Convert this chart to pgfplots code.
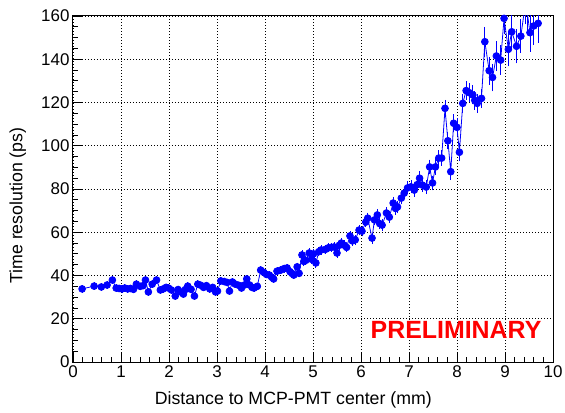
\documentclass[border=0pt]{standalone}
\usepackage{pgfplots}
\pgfplotsset{compat=1.18}
\usepackage{pgfplotstable}
\usepackage{fontspec}
\setmainfont{Liberation Sans}
\definecolor{rootblue}{RGB}{0,0,255}
\definecolor{rootred}{RGB}{255,0,0}

\pgfplotstableread{
x y ey
0.19 33.8 0.8
0.44 35.1 0.8
0.59 34.7 0.8
0.71 35.6 0.8
0.82 37.9 0.8
0.90 34.2 0.8
0.96 34.0 0.8
1.02 33.8 0.8
1.08 34.2 0.8
1.14 33.8 0.8
1.20 34.0 0.8
1.26 33.6 0.8
1.32 36.0 0.8
1.40 35.0 0.8
1.46 35.3 0.8
1.51 37.9 0.8
1.57 32.4 0.8
1.65 36.0 0.8
1.74 37.9 0.8
1.82 33.3 0.8
1.88 33.8 0.8
1.94 34.5 0.8
1.99 34.2 0.8
2.05 33.3 0.8
2.13 30.5 0.8
2.19 33.5 0.8
2.24 32.4 0.8
2.30 31.4 0.8
2.34 33.5 0.8
2.39 35.1 0.8
2.46 33.6 0.8
2.53 30.5 0.8
2.60 36.0 0.8
2.66 35.5 0.8
2.72 34.5 0.8
2.78 35.3 0.8
2.85 33.8 0.8
2.91 34.5 0.8
2.97 32.4 0.8
3.01 32.8 0.8
3.08 37.5 0.8
3.15 37.2 0.8
3.21 36.8 0.8
3.26 32.8 0.8
3.32 37.0 0.8
3.38 36.0 0.8
3.45 35.5 0.8
3.51 34.2 0.8
3.56 35.5 0.8
3.62 38.4 0.8
3.68 35.6 0.8
3.73 34.5 0.8
3.77 34.2 0.8
3.84 35.0 0.8
3.91 42.5 0.9
3.97 41.5 0.9
4.03 40.5 0.9
4.09 40.2 0.9
4.14 39.2 0.9
4.18 38.4 0.9
4.25 42.0 0.9
4.33 42.5 0.9
4.40 43.2 0.9
4.46 43.5 0.9
4.52 41.8 0.9
4.56 41.0 0.9
4.60 40.2 0.9
4.67 44.0 1.0
4.71 41.0 1.0
4.77 49.5 1.2
4.81 46.5 1.2
4.85 47.0 1.2
4.92 50.4 1.2
4.97 47.5 1.2
5.01 50.0 1.2
5.06 45.8 1.2
5.12 51.0 1.2
5.17 51.8 1.2
5.25 52.0 1.2
5.32 52.8 1.2
5.38 53.0 1.2
5.44 53.2 1.2
5.50 50.4 1.2
5.55 54.0 1.3
5.59 55.0 1.3
5.65 54.0 1.3
5.70 53.0 1.3
5.77 58.3 1.4
5.82 56.0 1.4
5.88 56.5 1.4
5.96 61.0 1.5
6.02 60.5 1.5
6.10 64.7 1.5
6.14 66.5 1.6
6.23 57.3 1.6
6.28 65.7 1.6
6.34 68.0 1.7
6.39 64.0 1.7
6.44 63.3 1.7
6.53 68.9 1.8
6.59 67.0 1.8
6.67 73.5 1.9
6.72 71.0 1.9
6.76 71.7 1.9
6.84 75.8 2.0
6.90 78.1 2.0
6.97 80.5 2.1
7.04 81.0 2.1
7.11 79.5 2.1
7.17 82.0 2.2
7.22 85.0 2.3
7.28 81.8 2.3
7.36 80.9 2.3
7.43 90.2 2.5
7.49 82.8 2.5
7.55 90.2 2.6
7.62 94.3 2.7
7.68 94.3 2.7
7.75 117.3 3.0
7.81 102.3 3.0
7.87 88.0 3.0
7.93 110.4 3.2
8.00 108.5 3.2
8.05 97.0 3.2
8.12 119.6 3.5
8.19 125.5 3.5
8.26 124.5 3.5
8.33 123.5 3.5
8.37 121.0 3.5
8.42 119.6 3.5
8.51 121.9 3.6
8.58 148.1 6.0
8.67 134.7 5.5
8.74 131.6 5.5
8.82 141.5 6.0
8.91 139.6 6.0
8.98 158.9 6.5
9.07 144.6 7.0
9.14 152.7 7.0
9.24 146.0 7.0
9.33 150.7 7.0
9.42 165.0 8.0
9.47 160.5 8.0
9.52 152.3 8.0
9.60 155.4 8.0
9.69 156.6 8.0
}\datatable

\begin{document}
\begin{tikzpicture}
\begin{axis}[
  scale only axis, width=480bp, height=346bp,
  xmin=0, xmax=10, ymin=0, ymax=160,
  xtick={0,1,...,10}, ytick={0,20,...,160},
  minor x tick num=4, minor y tick num=3,
  tick align=inside, xtick pos=left, ytick pos=left,
  major tick length=10bp, minor tick length=5bp,
  grid=major, grid style={black, line width=0.6bp, dash pattern=on 1bp off 2bp},
  axis line style={black, line width=1bp},
  tick style={black, line width=0.8bp},
  /pgf/number format/assume math mode=true,
  ticklabel style={font=\fontsize{17}{17}\selectfont},
  xlabel={Distance to MCP-PMT center (mm)},
  ylabel={Time resolution (ps)},
  label style={font=\fontsize{17.8}{17.8}\selectfont},
  xlabel style={at={(axis description cs:0.459,-0.11)}, anchor=center},
  ylabel style={at={(axis description cs:-0.115,0.452)}, anchor=center},
]
\addplot[rootblue, line width=0.8bp, mark=*, mark size=3.4bp,
  mark options={fill=rootblue, draw=rootblue},
  error bars/.cd, y dir=both, y explicit,
  error bar style={line width=0.8bp, rootblue},
  error mark options={rootblue, mark size=2bp, line width=0.8bp}]
  table[x=x, y=y, y error=ey] {\datatable};
\node[text=rootred, font=\bfseries\fontsize{25}{25}\selectfont] at (axis cs:7.98,14.8) {PRELIMINARY};
\end{axis}
\pgfresetboundingbox
\useasboundingbox ([shift={(-73bp,-51bp)}]current axis.south west) rectangle ([shift={(12bp,16bp)}]current axis.north east);
\end{tikzpicture}
\end{document}
